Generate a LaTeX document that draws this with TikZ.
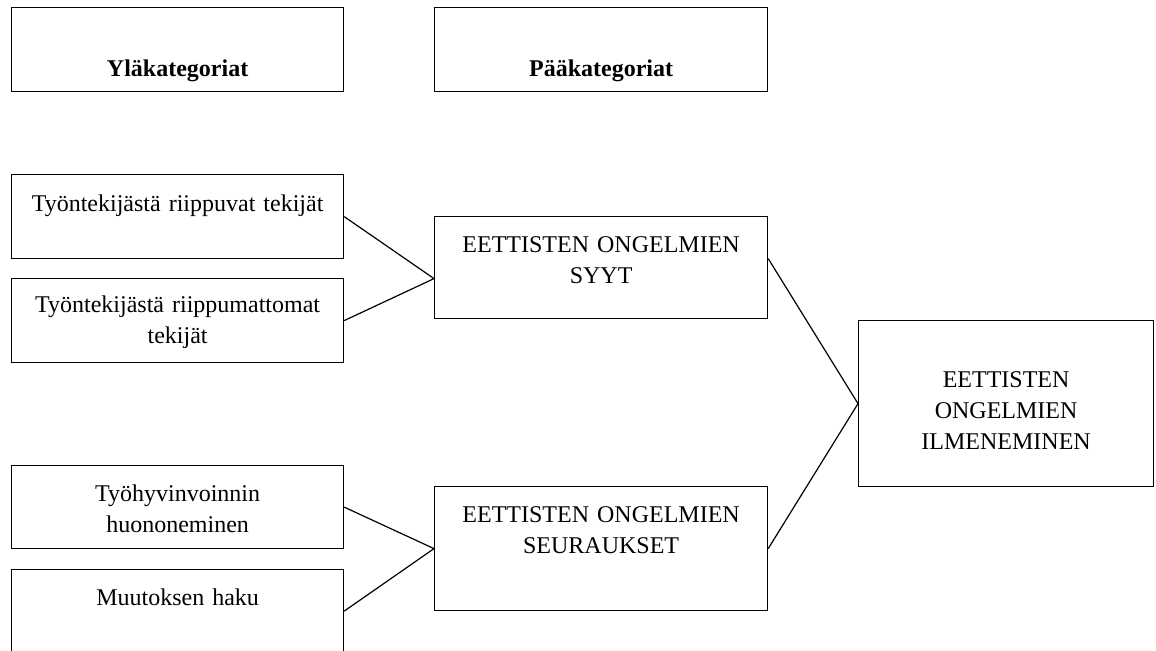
\documentclass[tikz,border=0pt]{standalone}
\usepackage{fontspec}
\setmainfont{Liberation Serif}
\begin{document}
\begin{tikzpicture}[x=0.5pt,y=-0.5pt,
  box/.style={draw, line width=0.6pt, inner sep=0pt, align=center,
    anchor=north west, font=\fontsize{12}{15.5}\selectfont},
  wide/.style={box, text width=166pt},
  link/.style={line width=0.6pt}]
\clip (0,0) rectangle (1156,650);

% column headings
\node[wide, text height=34.5pt, text depth=7.5pt] (yla) at (11,7) {\bfseries Yläkategoriat};
\node[box, text width=166.5pt, text height=34.5pt, text depth=7.5pt] (paa) at (434,7) {\bfseries Pääkategoriat};

% upper categories
\node[wide, text height=18.5pt, text depth=23.5pt] (t1) at (11,174) {Työntekijästä riippuvat tekijät};
\node[wide, text height=17pt, text depth=25pt] (t2) at (11,278) {Työntekijästä riippumattomat\\tekijät};
\node[wide, text height=18pt, text depth=23.5pt] (b1) at (11,465) {Työhyvinvoinnin\\huononeminen};
\node[wide, text height=18pt, text depth=27.5pt] (b2) at (11,569) {Muutoksen haku};

% main categories
\node[box, text width=166.5pt, text height=18pt, text depth=33pt] (syyt) at (434,216) {EETTISTEN ONGELMIEN\\SYYT};
\node[box, text width=166.5pt, text height=18pt, text depth=44pt] (seur) at (434,486) {EETTISTEN ONGELMIEN\\SEURAUKSET};

% core category
\node[box, text width=147.5pt, text height=33.5pt, text depth=49.5pt] (ilm) at (858,320) {EETTISTEN\\ONGELMIEN\\ILMENEMINEN};

% connectors
\coordinate (syytin) at ([yshift=-5.5pt]syyt.west);
\coordinate (syytout) at ([yshift=4.5pt]syyt.east);
\coordinate (b2out) at ([yshift=2pt]b2.east);
\draw[link] (t1.east) -- (syytin) -- (t2.east);
\draw[link] (b1.east) -- (seur.west) -- (b2out);
\draw[link] (syytout) -- (ilm.west) -- (seur.east);
\end{tikzpicture}
\end{document}
